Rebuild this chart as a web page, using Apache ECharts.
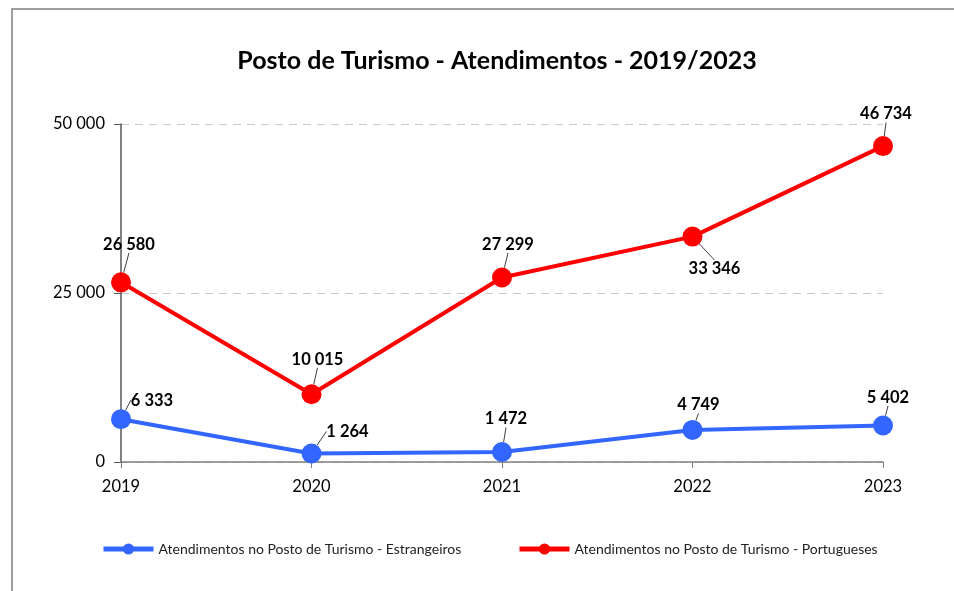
<!DOCTYPE html>
<html>
<head>
<meta charset="utf-8">
<script src="https://cdn.jsdelivr.net/npm/echarts@6/dist/echarts.min.js"></script>
<style>
  html, body { margin: 0; padding: 0; background: #fff; }
  #chart { width: 954px; height: 591px; }
</style>
</head>
<body>
<div id="chart"></div>
<script>
// Years on the category axis
const years = ['2019', '2020', '2021', '2022', '2023'];

// Visitors attended at the tourism office
const foreigners = [6333, 1264, 1472, 4749, 5402];
const portuguese = [26580, 10015, 27299, 33346, 46734];

// Value axis range
const yMin = 0;
const yMax = 50000;
const yStep = 25000;

const nameForeign = 'Atendimentos no Posto de Turismo - Estrangeiros';
const namePortuguese = 'Atendimentos no Posto de Turismo - Portugueses';

// Label offsets (px) from each point, used for the callout layout
const foreignLabelShift = [[31, -19], [36, -22], [4, -33], [6, -25], [5, -28]];
const portugueseLabelShift = [[8, -38], [6, -35], [6, -33], [22, 32], [3, -32]];

const FONT = 'Lato, "Open Sans", sans-serif';
const fmt = v => String(v).replace(/\B(?=(\d{3})+(?!\d))/g, ' ');

function series(name, values, color, shifts) {
  return {
    name: name,
    type: 'line',
    data: values,
    symbol: 'circle',
    symbolSize: 20,
    lineStyle: { color: color, width: 4 },
    itemStyle: { color: color },
    label: {
      show: true,
      position: 'inside',
      formatter: p => fmt(p.value),
      color: '#000',
      fontFamily: FONT,
      fontWeight: 'bold',
      fontSize: 16.5
    },
    labelLine: {
      show: true,
      length2: 0,
      minTurnAngle: 0,
      lineStyle: { color: '#404040', width: 1 }
    },
    labelLayout: p => ({ dx: shifts[p.dataIndex][0], dy: shifts[p.dataIndex][1] }),
    emphasis: { disabled: true },
    animation: false
  };
}

const legendText = { fontFamily: FONT, fontSize: 14, color: '#222' };

const chart = echarts.init(document.getElementById('chart'), null, { renderer: 'canvas' });
chart.setOption({
  backgroundColor: '#fff',
  animation: false,
  title: {
    text: 'Posto de Turismo - Atendimentos - 2019/2023',
    left: 492,
    textAlign: 'center',
    top: 43,
    textStyle: { fontFamily: FONT, fontWeight: 'bold', fontSize: 25, color: '#000' }
  },
  graphic: [{
    type: 'rect',
    shape: { x: 12, y: 9, width: 1000, height: 700 },
    style: { fill: 'none', stroke: '#7f7f7f', lineWidth: 1.5 },
    silent: true
  }],
  legend: [{
    data: [nameForeign],
    left: 101,
    top: 542,
    padding: 0,
    itemWidth: 50,
    itemHeight: 14,
    lineStyle: { width: 5 },
    textStyle: legendText
  }, {
    data: [namePortuguese],
    left: 517,
    top: 542,
    padding: 0,
    itemWidth: 50,
    itemHeight: 14,
    lineStyle: { width: 5 },
    textStyle: legendText
  }],
  grid: { left: 121, right: 71, top: 124, bottom: 129, containLabel: false },
  xAxis: {
    type: 'category',
    data: years,
    boundaryGap: false,
    axisLine: { lineStyle: { color: '#7f7f7f', width: 1.5 } },
    axisTick: { show: true, length: 6, lineStyle: { color: '#7f7f7f' } },
    axisLabel: { fontFamily: FONT, fontSize: 16.5, color: '#000', margin: 16 }
  },
  yAxis: {
    type: 'value',
    min: yMin,
    max: yMax,
    interval: yStep,
    axisLine: { show: true, lineStyle: { color: '#595959', width: 1.5 } },
    axisTick: { show: true, length: 7, lineStyle: { color: '#595959' } },
    axisLabel: { fontFamily: FONT, fontSize: 16.5, color: '#000', margin: 16, formatter: v => fmt(v) },
    splitLine: { show: true, lineStyle: { color: '#c8c8c8', type: [8, 6], width: 1 } }
  },
  series: [
    series(nameForeign, foreigners, '#3366ff', foreignLabelShift),
    series(namePortuguese, portuguese, '#ff0000', portugueseLabelShift)
  ]
});
</script>
</body>
</html>
